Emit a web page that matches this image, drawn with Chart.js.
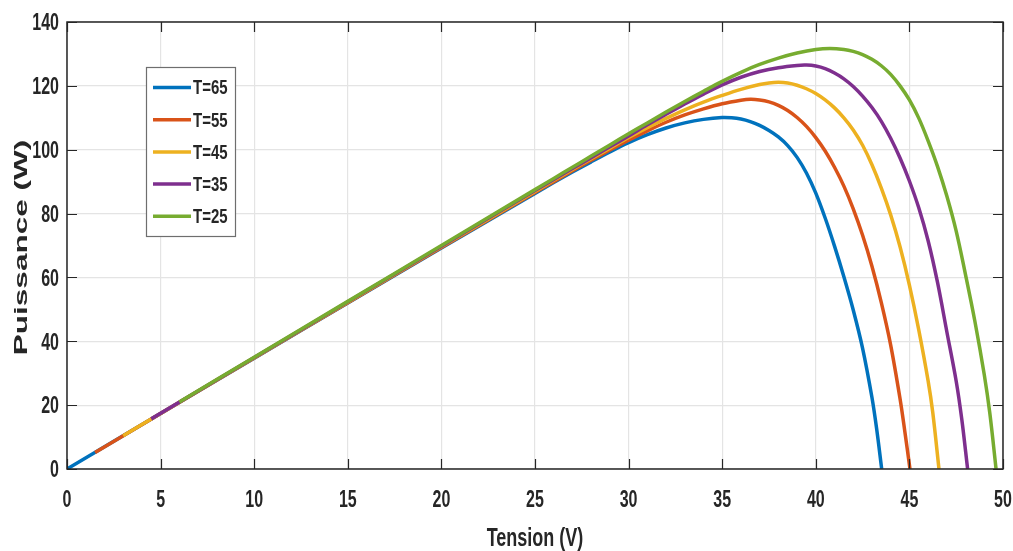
<!DOCTYPE html>
<html>
<head>
<meta charset="utf-8">
<title>Puissance - Tension</title>
<script src="https://cdn.jsdelivr.net/npm/chart.js@4"></script>
<style>
  html, body { margin: 0; padding: 0; background: #fff; }
  #wrap { width: 1013px; height: 551px; position: relative; }
</style>
</head>
<body>
<div id="wrap"><canvas id="chartPV"></canvas></div>
<script>
/* ============================
   Data
   ============================ */

const temps = [65, 55, 45, 35, 25];
const colors = ["#0072BD", "#D95319", "#EDB120", "#7E2F8E", "#77AC30"];

const xTicks = [0, 5, 10, 15, 20, 25, 30, 35, 40, 45, 50];
const yTicks = [0, 20, 40, 60, 80, 100, 120, 140];

// T = 65
const v65 = [0, 5, 10, 15, 20, 25, 26, 27, 28, 29, 30, 31, 32, 33, 34, 35, 35.5, 36, 36.5, 37, 37.5, 38, 38.5, 39, 39.5, 40, 40.5, 41, 41.5, 42, 42.5, 43, 43.25, 43.52];
const p65 = [0, 17.4, 34.7, 52.0, 69.2, 86.3, 89.7, 93.0, 96.2, 99.3, 102.2, 104.7, 106.8, 108.4, 109.5, 110.1, 110.0, 109.6, 108.8, 107.6, 106.0, 104.0, 101.3, 97.6, 92.7, 86.4, 78.6, 69.8, 60.2, 49.8, 37.8, 22.4, 12.6, 0];

// T = 55
const v55 = [1.5, 5, 10, 15, 20, 25, 26, 27, 28, 29, 30, 31, 32, 33, 34, 35, 36, 36.5, 37, 37.5, 38, 38.5, 39, 39.5, 40, 40.5, 41, 41.5, 42, 42.5, 43, 43.5, 44, 44.5, 44.75, 45.03];
const p55 = [5.2, 17.4, 34.8, 52.1, 69.4, 86.6, 90.0, 93.4, 96.7, 99.9, 103.0, 105.9, 108.6, 110.9, 112.8, 114.4, 115.5, 115.8, 115.6, 115.0, 113.9, 112.3, 110.1, 107.3, 103.8, 99.6, 94.5, 88.6, 81.5, 73.2, 63.5, 52.1, 38.8, 22.0, 12.0, 0];

// T = 45
const v45 = [3, 5, 10, 15, 20, 25, 26, 27, 28, 29, 30, 31, 32, 33, 34, 35, 36, 37, 37.5, 38, 38.5, 39, 39.5, 40, 40.5, 41, 41.5, 42, 42.5, 43, 43.5, 44, 44.5, 45, 45.5, 46, 46.25, 46.58];
const p45 = [10.45, 17.4, 34.85, 52.2, 69.6, 86.9, 90.4, 93.8, 97.2, 100.5, 103.8, 106.9, 109.8, 112.5, 114.9, 117.0, 118.9, 120.4, 120.9, 121.1, 120.9, 120.2, 119.1, 117.6, 115.6, 113.1, 110.0, 106.2, 101.4, 95.3, 88.0, 79.6, 69.6, 57.6, 43.6, 27.6, 17.6, 0];

// T = 35
const v35 = [4.5, 10, 15, 20, 25, 26, 27, 28, 29, 30, 31, 32, 33, 34, 35, 36, 37, 38, 39, 39.5, 40, 40.5, 41, 41.5, 42, 42.5, 43, 43.5, 44, 44.5, 45, 45.5, 46, 46.5, 47, 47.5, 47.8, 48.11];
const p35 = [15.7, 34.9, 52.35, 69.8, 87.2, 90.7, 94.1, 97.5, 100.9, 104.3, 107.8, 111.1, 114.3, 117.4, 120.3, 122.7, 124.5, 125.7, 126.4, 126.5, 126.2, 125.4, 124.0, 122.2, 119.8, 116.8, 113.2, 108.9, 103.6, 97.4, 90.2, 81.8, 71.5, 58.5, 43.0, 27.5, 15.5, 0];

// T = 25
const v25 = [6, 10, 15, 20, 25, 26, 27, 28, 29, 30, 31, 32, 33, 34, 35, 36, 37, 38, 39, 40, 40.75, 41.5, 42, 42.5, 43, 43.5, 44, 44.5, 45, 45.5, 46, 46.5, 47, 47.5, 48, 48.5, 49, 49.3, 49.63];
const p25 = [21.0, 35.0, 52.5, 70.0, 87.5, 91.0, 94.5, 98.0, 101.5, 105.0, 108.4, 111.8, 115.1, 118.3, 121.4, 124.2, 126.7, 128.7, 130.3, 131.4, 131.7, 131.4, 130.8, 129.8, 128.3, 126.3, 123.6, 120.0, 115.6, 109.9, 102.8, 94.8, 85.5, 74.5, 60.8, 46.2, 29.5, 17.3, 0];

const volts = [v65, v55, v45, v35, v25];
const powers = [p65, p55, p45, p35, p25];

/* ============================
   Helpers
   ============================ */

const $ = sel => document.querySelector(sel);
const AX = "#262626";

function pairs(xs, ys) {
  return xs.map((x, i) => ({ x, y: ys[i] }));
}

// bold text, stretched (the original figure is stretched vertically)
function stretchedText(ctx, txt, x, y, size, sx, sy, rot, align) {
  ctx.save();
  ctx.translate(x, y);
  if (rot) ctx.rotate(rot);
  ctx.scale(sx, sy);
  ctx.font = `bold ${size}px "Liberation Sans", Arial, sans-serif`;
  ctx.fillStyle = AX;
  ctx.textAlign = align || "center";
  ctx.textBaseline = "alphabetic";
  ctx.fillText(txt, 0, 0);
  ctx.restore();
}

/* ============================
   Frame / inner ticks / labels / legend / titles
   ============================ */

const matlabAxes = {
  id: "matlabAxes",
  afterDraw(chart) {
    const { ctx, chartArea: a, scales } = chart;
    const tl = 10;

    ctx.save();
    ctx.strokeStyle = AX;
    ctx.lineWidth = 1.5;
    ctx.beginPath();
    ctx.rect(a.left, a.top, a.right - a.left, a.bottom - a.top);
    ctx.stroke();

    ctx.lineWidth = 1.2;
    ctx.beginPath();
    scales.x.ticks.forEach(t => {
      const px = Math.round(scales.x.getPixelForValue(t.value)) + 0.5;
      ctx.moveTo(px, a.bottom); ctx.lineTo(px, a.bottom - tl);
      ctx.moveTo(px, a.top); ctx.lineTo(px, a.top + tl);
    });
    scales.y.ticks.forEach(t => {
      const py = Math.round(scales.y.getPixelForValue(t.value)) + 0.5;
      ctx.moveTo(a.left, py); ctx.lineTo(a.left + tl, py);
      ctx.moveTo(a.right, py); ctx.lineTo(a.right - tl, py);
    });
    ctx.stroke();
    ctx.restore();

    // tick labels
    scales.x.ticks.forEach(t => {
      stretchedText(ctx, String(t.value), scales.x.getPixelForValue(t.value), a.bottom + 38, 16, 1, 1.45, 0, "center");
    });
    scales.y.ticks.forEach(t => {
      stretchedText(ctx, String(t.value), a.left - 8, scales.y.getPixelForValue(t.value) + 8.3, 16, 1, 1.45, 0, "right");
    });

    // legend box
    const lx = 146, ly = 67, lw = 89, lh = 169;
    ctx.save();
    ctx.fillStyle = "#fff";
    ctx.fillRect(lx, ly, lw, lh);
    ctx.strokeStyle = "#6e6e6e";
    ctx.lineWidth = 1.2;
    ctx.strokeRect(lx + 0.5, ly + 0.5, lw, lh);
    chart.data.datasets.forEach((ds, i) => {
      const cy = 87.5 + i * 32.2;
      ctx.strokeStyle = ds.borderColor;
      ctx.lineWidth = 3.5;
      ctx.beginPath();
      ctx.moveTo(153, cy);
      ctx.lineTo(191, cy);
      ctx.stroke();
      stretchedText(ctx, ds.label, 193, cy + 6.8, 15, 1, 1.3, 0, "left");
    });
    ctx.restore();

    // axis titles
    stretchedText(ctx, "Tension (V)", (a.left + a.right) / 2, 546, 18, 1, 1.4, 0, "center");
    stretchedText(ctx, "Puissance (W)", 27, (a.top + a.bottom) / 2 + 2, 18, 1.75, 1, -Math.PI / 2, "center");
  }
};

/* ============================
   Chart
   ============================ */

const datasets = temps.map((t, i) => ({
  label: `T=${t}`,
  data: pairs(volts[i], powers[i]),
  borderColor: colors[i],
  backgroundColor: colors[i],
  borderWidth: 3.5,
  pointRadius: 0,
  fill: false,
  tension: 0.35,
  order: temps.length - i
}));

new Chart($("#chartPV"), {
  type: "line",
  data: { datasets },
  options: {
    responsive: true,
    maintainAspectRatio: false,
    animation: false,
    layout: { padding: { top: 22, right: 10, left: 0, bottom: 0 } },
    plugins: {
      legend: { display: false },
      tooltip: { enabled: false }
    },
    scales: {
      x: {
        type: "linear",
        min: 0,
        max: 50,
        afterBuildTicks: s => { s.ticks = xTicks.map(v => ({ value: v })); },
        afterFit: s => { s.height = 82; s.paddingLeft = 0; s.paddingRight = 0; },
        ticks: { display: false },
        grid: { color: "#e4e4e4", lineWidth: 1.2, drawTicks: false },
        border: { display: false }
      },
      y: {
        type: "linear",
        min: 0,
        max: 140,
        afterBuildTicks: s => { s.ticks = yTicks.map(v => ({ value: v })); },
        afterFit: s => { s.width = 67; s.paddingTop = 0; s.paddingBottom = 0; },
        ticks: { display: false },
        grid: { color: "#e4e4e4", lineWidth: 1.2, drawTicks: false },
        border: { display: false }
      }
    }
  },
  plugins: [matlabAxes]
});
</script>
</body>
</html>
